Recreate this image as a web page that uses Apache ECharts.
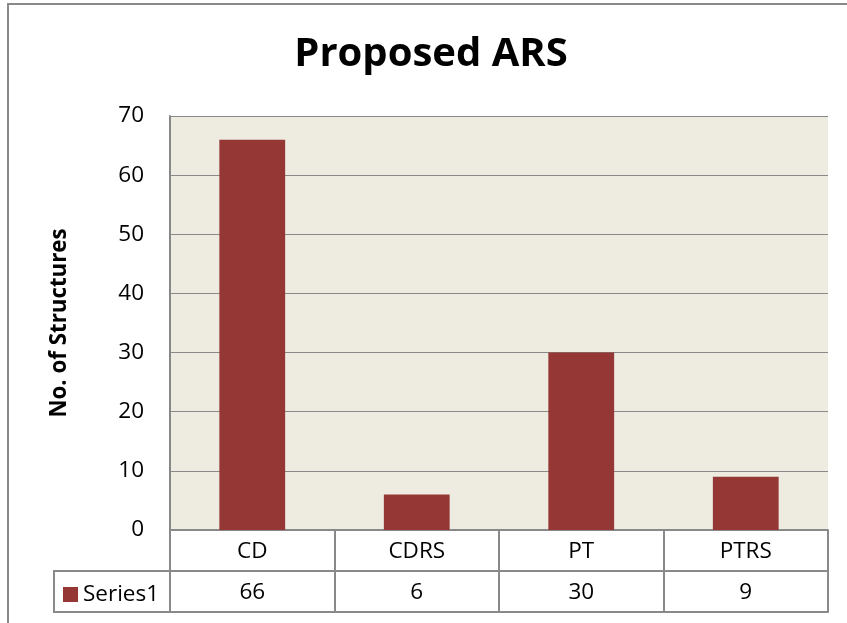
<!DOCTYPE html>
<html>
<head>
<meta charset="utf-8">
<script src="https://cdn.jsdelivr.net/npm/echarts@6/dist/echarts.min.js"></script>
<style>
html,body{margin:0;padding:0;background:#fff;}
#chart{width:847px;height:623px;}
</style>
</head>
<body>
<div id="chart"></div>
<script>
const categories = ['CD', 'CDRS', 'PT', 'PTRS'];
const values = [66, 6, 30, 9];
const seriesName = 'Series1';
const yTicks = { min: 0, max: 70, interval: 10 };

const FONT = 'Open Sans';
const GREY = '#898989';
const chart = echarts.init(document.getElementById('chart'));
chart.setOption({
  animation: false,
  textStyle: { fontFamily: FONT },
  title: {
    text: 'Proposed ARS',
    left: 426, top: 30, textAlign: 'center',
    textStyle: { fontFamily: FONT, fontSize: 40, fontWeight: 'bold', color: '#000' }
  },
  legend: {
    data: [seriesName],
    left: 63, top: 583, padding: 0,
    icon: 'rect', itemWidth: 15, itemHeight: 15, itemGap: 5,
    textStyle: { fontFamily: FONT, fontSize: 22.5, color: '#000' }
  },
  grid: {
    left: 170, right: 19, top: 116, bottom: 93,
    show: true, backgroundColor: '#EEECE1', borderWidth: 0
  },
  xAxis: [
    {
      type: 'category', data: categories, position: 'bottom',
      axisLine: { show: true, lineStyle: { color: GREY, width: 2 } },
      axisTick: { show: true, inside: false, length: 82, lineStyle: { color: GREY, width: 2 } },
      axisLabel: { margin: 10, fontSize: 22.5, color: '#000', fontFamily: FONT }
    },
    {
      type: 'category', data: values.map(String), position: 'bottom', offset: 41,
      axisLine: { show: true, lineStyle: { color: GREY, width: 2 } },
      axisTick: { show: false },
      axisLabel: { margin: 10, fontSize: 22.5, color: '#000', fontFamily: FONT }
    },
    {
      type: 'category', data: categories, position: 'bottom', offset: 82,
      axisLine: { show: true, lineStyle: { color: GREY, width: 2 } },
      axisTick: { show: false }, axisLabel: { show: false }
    }
  ],
  yAxis: {
    type: 'value', min: yTicks.min, max: yTicks.max, interval: yTicks.interval,
    name: 'No. of Structures', nameLocation: 'middle', nameRotate: 90, nameGap: 99,
    nameTextStyle: { fontFamily: FONT, fontSize: 22.3, fontWeight: 'bold', color: '#000' },
    axisLine: { show: true, lineStyle: { color: GREY, width: 2 } },
    axisTick: { show: false },
    axisLabel: { margin: 26, fontSize: 22.5, color: '#000', fontFamily: FONT },
    splitLine: { show: true, lineStyle: { color: GREY, width: 1 } }
  },
  series: [{
    name: seriesName, type: 'bar', data: values, xAxisIndex: 0,
    barWidth: '40%', itemStyle: { color: '#953735' }
  }],
  graphic: [
    { type: 'rect', shape: { x: 8, y: 4, width: 900, height: 700 }, style: { fill: 'none', stroke: GREY, lineWidth: 2 }, silent: true },
    { type: 'line', shape: { x1: 54, y1: 571, x2: 170, y2: 571 }, style: { stroke: GREY, lineWidth: 2 } },
    { type: 'line', shape: { x1: 54, y1: 612, x2: 170, y2: 612 }, style: { stroke: GREY, lineWidth: 2 } },
    { type: 'line', shape: { x1: 54, y1: 570, x2: 54, y2: 613 }, style: { stroke: GREY, lineWidth: 2 } }
  ]
});
</script>
</body>
</html>
